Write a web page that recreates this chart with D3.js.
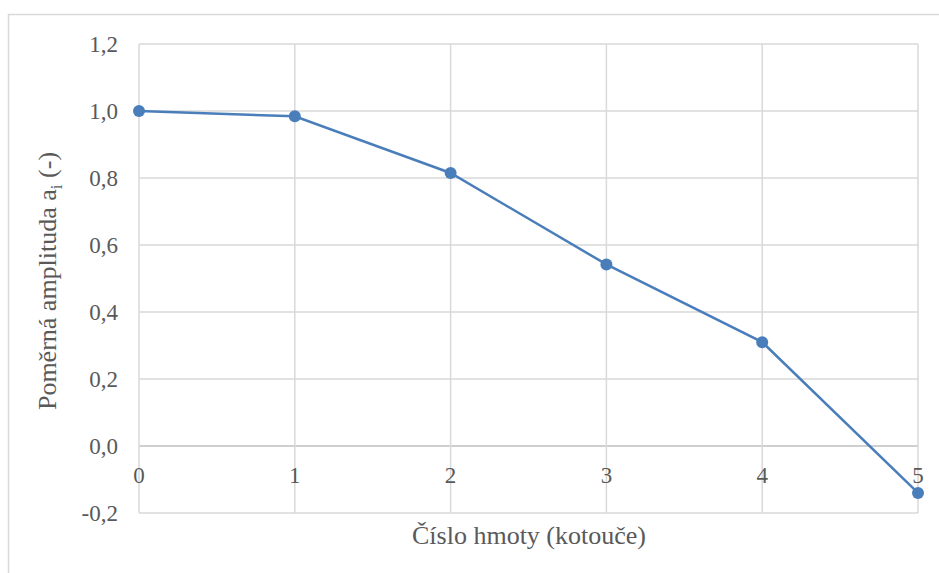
<!DOCTYPE html>
<html>
<head>
<meta charset="utf-8">
<script src="https://cdn.jsdelivr.net/npm/d3@7"></script>
<style>
  body { margin: 0; background: #fff; }
</style>
</head>
<body>
<div id="chart"></div>
<script>
// Data
const masses = [0, 1, 2, 3, 4, 5];
const amplitudes = [1.0, 0.984, 0.815, 0.542, 0.31, -0.14];
const yTicks = [-0.2, 0, 0.2, 0.4, 0.6, 0.8, 1.0, 1.2];

const FONT = "'Liberation Serif', 'Times New Roman', serif";
const W = 939, H = 573;
const margin = { top: 44, right: 21, bottom: 60, left: 139 },
  width = W - margin.left - margin.right,
  height = 513 - margin.top;

const root = d3.select("#chart").append("svg")
  .attr("width", W)
  .attr("height", H)
  .style("font-family", FONT);

// outer chart frame
root.append("rect")
  .attr("x", 8.5).attr("y", 14.5)
  .attr("width", 940).attr("height", 600)
  .attr("fill", "none")
  .attr("stroke", "#d9d9d9")
  .attr("stroke-width", 1.5);

const svg = root.append("g")
  .attr("transform", `translate(${margin.left}, ${margin.top})`);

const x = d3.scaleLinear().domain([0, 5]).range([0, width]);
const y = d3.scaleLinear().domain([-0.2, 1.2]).range([height, 0]);

const fmt = d => d3.format(".1f")(d).replace(".", ",").replace("−", "-");

// horizontal grid lines
svg.append("g")
  .selectAll("line")
  .data(yTicks)
  .join("line")
  .attr("x1", 0).attr("x2", width)
  .attr("y1", d => y(d)).attr("y2", d => y(d))
  .attr("stroke", d => d === 0 ? "#bfbfbf" : "#d9d9d9")
  .attr("stroke-width", 1.5);

// vertical grid lines
svg.append("g")
  .selectAll("line")
  .data(masses)
  .join("line")
  .attr("x1", d => x(d)).attr("x2", d => x(d))
  .attr("y1", 0).attr("y2", height)
  .attr("stroke", "#d9d9d9")
  .attr("stroke-width", 1.5);

// y tick labels
svg.append("g")
  .selectAll("text")
  .data(yTicks)
  .join("text")
  .attr("x", -21)
  .attr("y", d => y(d))
  .attr("dy", "0.35em")
  .attr("text-anchor", "end")
  .attr("font-family", FONT)
  .attr("font-size", "23px")
  .attr("fill", "#595959")
  .text(fmt);

// x tick labels, sitting below the zero line
svg.append("g")
  .selectAll("text")
  .data(masses)
  .join("text")
  .attr("x", d => x(d))
  .attr("y", y(0) + 29)
  .attr("dy", "0.35em")
  .attr("text-anchor", "middle")
  .attr("font-family", FONT)
  .attr("font-size", "23px")
  .attr("fill", "#595959")
  .text(d => d);

// the series line
const points = masses.map((m, i) => ({ m: m, a: amplitudes[i] }));
svg.append("path")
  .datum(points)
  .attr("fill", "none")
  .attr("stroke", "#4a7ebb")
  .attr("stroke-width", 2.5)
  .attr("d", d3.line().x(d => x(d.m)).y(d => y(d.a)));

svg.selectAll("circle")
  .data(points)
  .join("circle")
  .attr("cx", d => x(d.m))
  .attr("cy", d => y(d.a))
  .attr("r", 6)
  .attr("fill", "#4a7ebb");

// axis titles
root.append("text")
  .attr("x", 529)
  .attr("y", 535)
  .attr("dy", "0.35em")
  .attr("text-anchor", "middle")
  .attr("font-family", FONT)
  .attr("font-size", "26px")
  .attr("fill", "#595959")
  .text("Číslo hmoty (kotouče)");

const yt = root.append("text")
  .attr("transform", "translate(47, 281) rotate(-90)")
  .attr("dy", "0.35em")
  .attr("text-anchor", "middle")
  .attr("font-family", FONT)
  .attr("font-size", "26px")
  .attr("fill", "#595959");
yt.append("tspan").text("Poměrná amplituda a");
yt.append("tspan").attr("font-size", "17px").attr("dy", "6").text("i");
yt.append("tspan").attr("dy", "-6").text(" (-)");
</script>
</body>
</html>
